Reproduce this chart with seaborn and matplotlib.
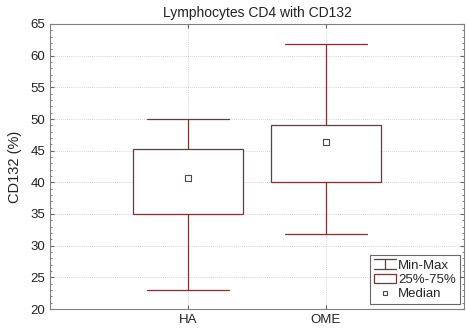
import matplotlib
matplotlib.use("Agg")
import matplotlib.pyplot as plt
import seaborn as sns
import pandas as pd
from matplotlib.lines import Line2D
from matplotlib.patches import Rectangle
from matplotlib.legend_handler import HandlerBase
from matplotlib.ticker import MultipleLocator

groups = ["HA", "OME"]
mins = [23.0, 31.8]
q1s = [35.0, 40.0]
medians = [40.7, 46.3]
q3s = [45.3, 49.0]
maxs = [50.0, 61.8]

rows = []
for g, a, b, c, d, e in zip(groups, mins, q1s, medians, q3s, maxs):
    for v in (a, b, c, d, e):
        rows.append({"group": g, "value": v})
df = pd.DataFrame(rows)
med_df = pd.DataFrame({"group": groups, "median": medians})

sns.set_style("white")
plt.rcParams["font.family"] = ["Liberation Sans", "DejaVu Sans"]

col = "#763636"
fig = plt.figure(figsize=(4.66, 3.32), dpi=100)
ax = fig.add_axes([50 / 466, 1 - 309 / 332, 414 / 466, 285 / 332])

sns.boxplot(data=df, x="group", y="value", order=groups, whis=(0, 100),
            width=0.8, color="white", linecolor=col, linewidth=0.9,
            medianprops={"linewidth": 0}, showfliers=False, ax=ax)
sns.scatterplot(data=med_df, x="group", y="median", marker="s", s=14,
                facecolor="white", edgecolor=col, linewidth=0.8, zorder=5, ax=ax)

# adjust cap widths
for ln in ax.lines:
    xd = ln.get_xdata()
    yd = ln.get_ydata()
    if len(xd) == 2 and yd[0] == yd[1] and abs(xd[1] - xd[0]) > 0.01 and abs(xd[1]-xd[0]) < 0.79:
        c = (xd[0] + xd[1]) / 2
        ln.set_xdata([c - 0.3, c + 0.3])

ax.set_xlim(-1, 2)
ax.set_ylim(20, 65)
ax.yaxis.set_major_locator(MultipleLocator(5))
ax.yaxis.set_minor_locator(MultipleLocator(1))
ax.grid(True, which="major", linestyle=(0, (1, 1.5)), color="#c4c4c4", linewidth=0.6)
ax.set_axisbelow(True)
ax.tick_params(which="both", direction="in", top=True, right=True, left=True, bottom=True,
               color="#666666", labelsize=9.5, labelcolor="#222222")
ax.tick_params(which="major", length=3)
ax.tick_params(which="minor", length=1.5)
for s in ax.spines.values():
    s.set_color("#808080")
    s.set_linewidth(0.8)
ax.set_xlabel("")
ax.set_ylabel("CD132 (%)", fontsize=10.5, color="#222222", labelpad=6)
ax.set_title("Lymphocytes CD4 with CD132", fontsize=10, color="#222222", pad=5)


class MinMaxHandler(HandlerBase):
    def create_artists(self, legend, orig_handle, xdescent, ydescent, width, height, fontsize, trans):
        x0, x1 = -xdescent, -xdescent + width
        y0, y1 = -ydescent, -ydescent + height
        xc = (x0 + x1) / 2
        arts = [Line2D([x0, x1], [y1, y1], color=col, lw=0.9, transform=trans),
                Line2D([x0, x1], [y0, y0], color=col, lw=0.9, transform=trans),
                Line2D([xc, xc], [y0, y1], color=col, lw=0.9, transform=trans)]
        return arts


mm = Line2D([], [], color=col)
box = Rectangle((0, 0), 1, 1, facecolor="white", edgecolor=col, linewidth=0.9)
med = Line2D([], [], marker="s", linestyle="none", markersize=3.2,
             markerfacecolor="white", markeredgecolor=col, markeredgewidth=0.8)
leg = ax.legend([mm, box, med], ["Min-Max", "25%-75%", "Median"],
                handler_map={mm: MinMaxHandler()}, loc="lower right",
                bbox_to_anchor=(0.996, 0.008), fontsize=9.5, frameon=True, fancybox=False,
                handlelength=1.7, handleheight=0.7, handletextpad=0.15, borderpad=0.3,
                labelspacing=0.15, borderaxespad=0.2)
leg.get_frame().set_edgecolor("#444444")
leg.get_frame().set_linewidth(0.8)

fig.savefig("out.png", dpi=100)
